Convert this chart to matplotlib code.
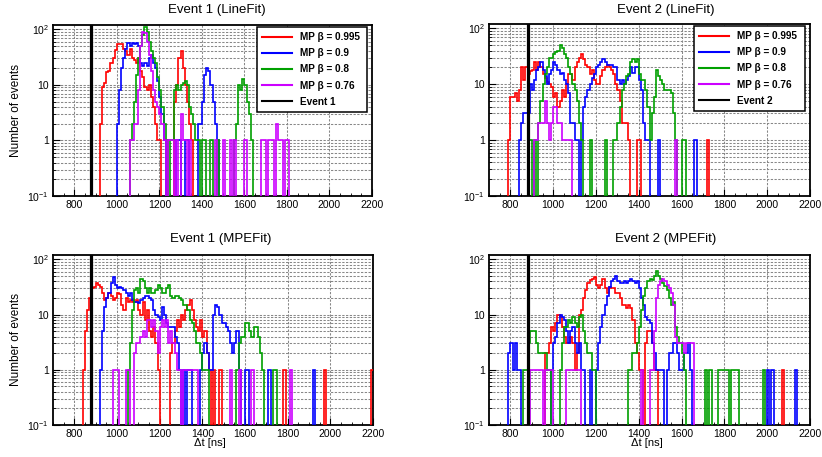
import numpy as np
import matplotlib
matplotlib.use("Agg")
import matplotlib.pyplot as plt
from matplotlib.lines import Line2D
from matplotlib.ticker import FixedLocator, LogLocator, NullFormatter, MultipleLocator

plt.rcParams['font.family'] = ['Liberation Sans', 'DejaVu Sans']
plt.rcParams['mathtext.fontset'] = 'custom'
plt.rcParams['mathtext.rm'] = 'Liberation Sans'
plt.rcParams['mathtext.it'] = 'Liberation Sans'

# ---- binning of the time-difference histograms (ns) ----
t_min, t_max, bin_w = 700, 2200, 10
event_dt = [880, 880]          # observed Δt of event 1 and event 2

labels = ['MP β = 0.995', 'MP β = 0.9', 'MP β = 0.8', 'MP β = 0.76']
titles = ['Event 1 (LineFit)', 'Event 2 (LineFit)', 'Event 1 (MPEFit)', 'Event 2 (MPEFit)']

# Each series: first bin lower edge, contiguous bin counts, and extra single entries.
# ---------------- Event 1, LineFit ----------------
e1lf_r_t0 = 920
e1lf_r = [2, 9, 11, 17, 18, 25, 30, 42, 55, 55, 55, 45, 40, 35, 45, 30, 28, 25, 30, 18,
          14, 9, 8, 10, 6, 4, 2, 1, 1, 0, 0, 0, 0, 0, 0, 5, 10, 30, 40, 20, 10, 5, 2, 1]
e1lf_r_hits = [1230]
e1lf_b_t0 = 1000
e1lf_b = [2, 8, 20, 30, 45, 58, 50, 58, 55, 58, 50, 25, 22, 25, 22, 30, 35, 25, 20, 12,
          6, 3, 1, 0, 0, 0, 0, 0, 1, 1, 0, 0, 1, 1, 0, 0, 0, 0, 2, 2, 5, 15, 20, 18, 10,
          5, 2, 1]
e1lf_b_hits = []
e1lf_g_t0 = 1060
e1lf_g = [1, 2, 5, 15, 30, 50, 80, 110, 90, 60, 40, 30, 25, 14, 8, 4, 2, 1, 0, 1, 1,
          8, 10, 8, 10, 11, 12, 10, 4, 3, 2, 1, 1, 0, 1, 1, 0, 0, 0, 0, 0, 0, 0, 0, 0,
          0, 0, 0, 0, 0, 2, 10, 8, 13, 10, 5, 3, 1]
e1lf_g_hits = [1440, 1470, 1550]
e1lf_m_t0 = 1060
e1lf_m = [1, 1, 2, 2, 8, 50, 90, 85, 60, 35, 18, 8, 5, 4, 3, 2, 1]
e1lf_m_hits = [1240, 1250, 1260, 1280, 1300, 1300, 1300, 1310, 1320, 1340, 1460, 1500,
               1530, 1550, 1600, 1680, 1690, 1710, 1720, 1730, 1750, 1750, 1760, 1770,
               1790, 1800]

# ---------------- Event 2, LineFit ----------------
e2lf_r_t0 = 790
e2lf_r = [1, 6, 6, 7, 5, 8, 20, 12, 20, 15, 17, 18, 25, 18, 25, 20, 15, 13, 11, 10, 9,
          6, 7, 4, 5, 8, 6, 10, 15, 15, 12, 20, 25, 30, 35, 28, 22, 20, 15, 18, 12, 10,
          10, 14, 18, 20, 22, 20, 18, 15, 10, 8, 5, 2, 2, 2, 1]
e2lf_r_hits = [1390, 1400, 1720]
e2lf_b_t0 = 840
e2lf_b = [1, 2, 3, 3, 3, 10, 8, 12, 18, 20, 25, 18, 14, 10, 15, 18, 25, 22, 18, 15, 16,
          12, 10, 7, 2, 2, 1, 1, 0, 1, 4, 6, 8, 10, 13, 15, 20, 22, 25, 28, 25, 22, 22,
          22, 20, 20, 12, 10, 12, 10, 12, 14, 20, 16, 20, 20, 12, 8, 2, 1]
e2lf_b_hits = [1440, 1490, 1660]
e2lf_g_t0 = 880
e2lf_g = [1, 1, 0, 1, 0, 2, 5, 10, 15, 20, 30, 30, 35, 38, 40, 50, 45, 35, 30, 20, 15,
          10, 8, 5, 2, 1, 0, 0, 0, 1, 0, 0, 0, 0, 0, 0, 1, 0, 0, 0, 1, 1, 2, 4, 8, 10,
          14, 15, 25, 28, 25, 28, 15, 12, 12, 8, 4, 1, 3, 6, 18, 14, 12, 10, 8, 8, 8,
          7, 3, 1]
e2lf_g_hits = [1600, 1610]
e2lf_m_t0 = 910
e2lf_m = [1, 1, 2, 2, 2, 5, 2, 1, 2, 4, 4, 2, 2, 1, 1, 1, 1, 1]
e2lf_m_hits = [1570]

# ---------------- Event 1, MPEFit ----------------
e1mpe_r_t0 = 840
e1mpe_r = [1, 5, 12, 20, 30, 32, 38, 35, 32, 25, 18, 20, 25, 22, 18, 20, 25, 24, 15, 12,
           20, 17, 18, 17, 17, 18, 12, 10, 17, 8, 12, 5, 4, 6, 3, 1, 0, 0, 0, 0, 0, 2,
           3, 5, 8, 6, 10, 8, 12, 15, 18, 12, 8, 6, 5, 8, 4, 5, 2, 1]
e1mpe_r_hits = [1450, 1480, 1780, 1970, 2190]
e1mpe_b_t0 = 920
e1mpe_b = [1, 5, 14, 20, 25, 38, 48, 35, 30, 32, 30, 28, 25, 22, 25, 18, 17, 17, 16, 18,
           20, 22, 22, 20, 18, 12, 10, 9, 8, 14, 10, 7, 6, 6, 6, 4, 3, 1, 0, 1, 0, 1, 1,
           0, 0, 0, 0, 1, 2, 3, 2, 1, 1, 10, 15, 14, 10, 7, 7, 6, 5, 3, 2, 3, 5, 1]
e1mpe_b_hits = [1600, 1610, 1710, 1920]
e1mpe_g_t0 = 1050
e1mpe_g = [1, 3, 12, 28, 30, 25, 45, 40, 30, 25, 30, 25, 25, 28, 35, 30, 25, 25, 30, 35,
           22, 20, 22, 22, 20, 18, 15, 15, 12, 8, 7, 5, 3, 3, 2, 1, 1, 1, 0, 0, 0, 0, 0,
           0, 0, 0, 0, 0, 0, 0, 0, 1, 3, 4, 4, 7, 7, 5, 4, 6, 6, 4, 2]
e1mpe_g_hits = [1680, 1730, 1740]
e1mpe_m_t0 = 1080
e1mpe_m = [2, 3, 3, 4, 5, 4, 8, 8, 6, 8, 5, 2, 6, 8, 6, 8, 3, 5, 3, 2, 1, 1, 0, 1, 1,
           1, 1, 1, 1, 1]
e1mpe_m_hits = [980, 990, 1000, 1040, 1050, 1530, 1570, 1630, 1810]

# ---------------- Event 2, MPEFit ----------------
e2mpe_r_t0 = 960
e2mpe_r = [2, 2, 3, 6, 5, 7, 10, 9, 6, 4, 3, 3, 4, 3, 1, 2, 10, 12, 20, 28, 38, 42, 45,
           48, 35, 30, 35, 45, 30, 25, 32, 30, 30, 25, 25, 20, 15, 15, 13, 15, 13, 8, 3,
           2, 1, 1, 0, 3, 5, 5, 3, 1, 1]
e2mpe_r_hits = [2070]
e2mpe_b_t0 = 790
e2mpe_b = [2, 3, 1, 3, 1, 1, 0, 0, 0, 0, 0, 0, 0, 0, 0, 0, 0, 0, 0, 0, 1, 3, 4, 7, 10,
           9, 8, 5, 3, 5, 6, 3, 2, 3, 1, 1, 0, 0, 1, 0, 0, 1, 3, 6, 10, 15, 22, 32, 40,
           45, 50, 40, 38, 38, 40, 38, 40, 45, 40, 38, 40, 30, 20, 15, 9, 8, 7, 3, 2, 1,
           1, 1, 1, 0, 1, 2, 2, 3, 3, 2, 1, 1, 2, 2, 3, 1]
e2mpe_b_hits = [2000, 2020, 2130]
e2mpe_g_t0 = 860
e2mpe_g = [1, 1, 3, 5, 5, 5, 3, 2, 2, 2, 2, 1, 1, 0, 0, 0, 0, 1, 3, 6, 6, 8, 7, 9, 7,
           6, 9, 10, 5, 3, 2, 2, 1, 1, 0, 0, 0, 0, 0, 0, 0, 0, 0, 0, 0, 0, 0, 0, 0, 1,
           1, 2, 2, 3, 6, 12, 22, 30, 40, 45, 42, 50, 62, 50, 45, 38, 33, 28, 20, 15,
           17, 6, 4, 3, 2, 1]
e2mpe_g_hits = [1710, 1730, 1770, 1780, 1790, 1800, 1810, 1830, 1840, 1850, 1860, 1980]
e2mpe_m_t0 = 1450
e2mpe_m = [1, 1, 5, 20, 35, 40, 45, 40, 35, 30, 25, 15, 4, 3, 3, 3, 2, 3, 3, 3, 3]
e2mpe_m_hits = [890, 900, 910, 920, 930, 940, 960, 970, 980, 990, 1060, 1070, 1080,
                1090, 1100, 1110, 1120, 1410]

panels = [
    [(e1lf_r_t0, e1lf_r, e1lf_r_hits), (e1lf_b_t0, e1lf_b, e1lf_b_hits),
     (e1lf_g_t0, e1lf_g, e1lf_g_hits), (e1lf_m_t0, e1lf_m, e1lf_m_hits)],
    [(e2lf_r_t0, e2lf_r, e2lf_r_hits), (e2lf_b_t0, e2lf_b, e2lf_b_hits),
     (e2lf_g_t0, e2lf_g, e2lf_g_hits), (e2lf_m_t0, e2lf_m, e2lf_m_hits)],
    [(e1mpe_r_t0, e1mpe_r, e1mpe_r_hits), (e1mpe_b_t0, e1mpe_b, e1mpe_b_hits),
     (e1mpe_g_t0, e1mpe_g, e1mpe_g_hits), (e1mpe_m_t0, e1mpe_m, e1mpe_m_hits)],
    [(e2mpe_r_t0, e2mpe_r, e2mpe_r_hits), (e2mpe_b_t0, e2mpe_b, e2mpe_b_hits),
     (e2mpe_g_t0, e2mpe_g, e2mpe_g_hits), (e2mpe_m_t0, e2mpe_m, e2mpe_m_hits)],
]

colors = ['#ff0000', '#0000ff', '#00a000', '#cc00ff']
edges = np.arange(t_min, t_max + bin_w, bin_w)


def fill_counts(t0, block, hits):
    c = np.zeros(len(edges) - 1)
    i0 = int(round((t0 - t_min) / bin_w))
    c[i0:i0 + len(block)] += np.asarray(block, dtype=float)
    for t in hits:
        c[int(round((t - t_min) / bin_w))] += 1
    return c


W, H = 822, 457
fig = plt.figure(figsize=(W / 100, H / 100), dpi=100)

# axes frames in pixel coordinates: left, right, top, bottom
frames = [(53, 372, 25, 196), (489, 810, 24, 196),
          (53, 373, 255, 425), (489, 810, 255, 425)]
title_pos = [(217, 10), (666, 10), (221, 239), (666, 239)]

grid_kw = dict(color='#888888', linestyle=(0, (2.2, 1.4)), linewidth=0.75)

for k, (series, (l, r, t, b)) in enumerate(zip(panels, frames)):
    ax = fig.add_axes([l / W, 1 - b / H, (r - l) / W, (b - t) / H])
    ax.set_yscale('log')
    ax.set_xlim(t_min, t_max)
    ax.set_ylim(0.1, 120)

    for (t0, block, hits), col in zip(series, colors):
        c = fill_counts(t0, block, hits)
        ax.stairs(np.where(c > 0, c, 1e-3), edges, baseline=None,
                  color=col, linewidth=1.2, zorder=3)
    ax.axvline(event_dt[k % 2], color='black', linewidth=2.3, zorder=4)

    ax.set_xticks(np.arange(800, 2201, 200))
    ax.xaxis.set_minor_locator(MultipleLocator(50))
    ax.yaxis.set_major_locator(FixedLocator([0.1, 1, 10, 100]))
    ax.set_yticklabels([r'$10^{-1}$', '1', '10', r'$10^{2}$'])
    ax.yaxis.set_minor_locator(LogLocator(base=10, subs=np.arange(2, 10)))
    ax.yaxis.set_minor_formatter(NullFormatter())
    ax.tick_params(which='both', direction='in', labelsize=7.5, pad=3)
    ax.tick_params(which='major', length=5)
    ax.tick_params(which='minor', length=2.5)
    ax.grid(True, which='major', axis='x', **grid_kw)
    ax.grid(True, which='both', axis='y', **grid_kw)
    ax.set_axisbelow(True)
    for s in ax.spines.values():
        s.set_linewidth(1.3)

    fig.text(title_pos[k][0] / W, 1 - title_pos[k][1] / H, titles[k],
             ha='center', va='center', fontsize=9.5)

    if k % 2 == 0:
        fig.text(16 / W, 1 - ((t + b) / 2) / H, 'Number of events', rotation=90,
                 ha='center', va='center', fontsize=8.5)
    if k >= 2:
        fig.text(((l + r) / 2 - 3) / W, 1 - 443 / H, 'Δt [ns]',
                 ha='center', va='center', fontsize=8)

    if k < 2:
        handles = [Line2D([], [], color=c, linewidth=1.5) for c in colors]
        handles.append(Line2D([], [], color='black', linewidth=1.5))
        leg = ax.legend(handles, labels + [f'Event {k + 1}'],
                        loc='upper left', bbox_to_anchor=(0.638, 0.5, 0.345, 0.488),
                        mode='expand', borderaxespad=0, fancybox=False,
                        framealpha=1, edgecolor='black',
                        prop={'weight': 'bold', 'size': 7.2},
                        handlelength=3.0, handletextpad=0.8, labelspacing=0.62,
                        borderpad=0.5)
        leg.get_frame().set_linewidth(1.1)
        leg.set_zorder(5)

fig.savefig('out.png', dpi=100)
